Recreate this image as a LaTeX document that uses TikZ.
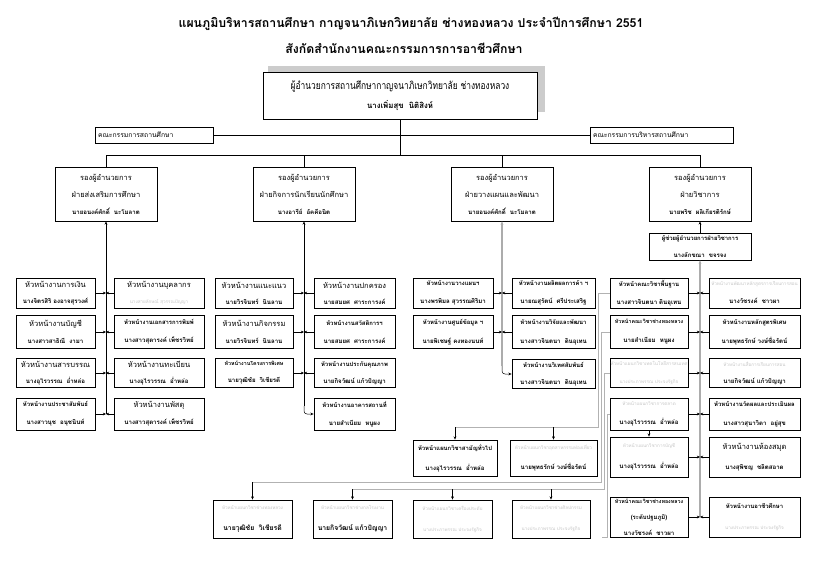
\documentclass[tikz,border=0pt]{standalone}
\usepackage{fontspec}
\setmainfont[Script=Thai]{Loma}
\usetikzlibrary{arrows.meta}
\newcommand\hd[1]{{\fontsize{7.5}{8}\selectfont #1}}
\newcommand\hs[1]{{\fontsize{5.9}{6.5}\selectfont\bfseries #1}}
\newcommand\hn[1]{{\fontsize{5.3}{6.5}\selectfont\bfseries #1}}
\newcommand\nm[1]{{\fontsize{6.1}{6.5}\selectfont\bfseries #1}}
\newcommand\gr[1]{{\color{gray!45}\fontsize{4.6}{5.5}\selectfont #1}}
\newcommand\ob[5]{\node[bx, minimum width=#3pt, minimum height=#4pt] (#1) at #2 {#5};}
\begin{document}
\begin{tikzpicture}[x=1pt,y=-1pt,
  bx/.style={draw=black, line width=0.8pt, fill=white, align=center, inner sep=0pt},
  ln/.style={draw=black, line width=0.5pt},
  gl/.style={draw=gray!65, line width=1.3pt},
  rt/.style={draw=gray!60, line width=1pt},
  arr/.style={-{Stealth[length=3.2pt,width=2.8pt]}}]
\useasboundingbox[fill=white] (0,0) rectangle (827,579);

% title
\node[font=\fontsize{12.3}{14}\selectfont\bfseries] (t1) at (411,24) {แผนภูมิบริหารสถานศึกษา กาญจนาภิเษกวิทยาลัย ช่างทองหลวง ประจำปีการศึกษา 2551};
\node[font=\fontsize{12.3}{14}\selectfont\bfseries] (t2) at (404,48) {สังกัดสำนักงานคณะกรรมการการอาชีวศึกษา};

% director
\fill[gray!40] (268,66) rectangle (545,112);
\node[bx, minimum width=274pt, minimum height=47pt] (dir) at (400,95.5)
 {\scalebox{0.8}[1]{\fontsize{10.5}{12}\selectfont ผู้อำนวยการสถานศึกษากาญจนาภิเษกวิทยาลัย ช่างทองหลวง}\\[7pt]{\fontsize{7.8}{9}\selectfont\bfseries นางเพิ่มสุข\ \ นิติสิงห์}};

% committees
\node[bx, minimum height=16pt, text width=112pt, inner xsep=3pt, align=left, font=\fontsize{6.8}{7}\selectfont] (cL) at (154,135) {คณะกรรมการสถานศึกษา};
\node[bx, minimum height=16pt, text width=137pt, inner xsep=3pt, align=left, font=\fontsize{6.8}{7}\selectfont] (cR) at (661.5,135) {คณะกรรมการบริหารสถานศึกษา};
\draw[ln] (cL.east) -- (cR.west);

% bus
\coordinate (bm) at (400,155);
\coordinate (b1) at (106,155);
\coordinate (b2) at (304,155);
\coordinate (b3) at (502,155);
\coordinate (b4) at (700,155);
\draw[ln] (dir.south) -- (bm);
\draw[ln] (b1) -- (b4);

% deputies
\ob{d1}{(106,194)}{102}{54}{\hd{รองผู้อำนวยการ}\\[5pt]\hd{ฝ่ายส่งเสริมการศึกษา}\\[5pt]\nm{นายอนงค์ศักดิ์\ \ นะโมลาต}}
\ob{d2}{(304,194)}{102}{54}{\hd{รองผู้อำนวยการ}\\[5pt]\hd{ฝ่ายกิจการนักเรียนนักศึกษา}\\[5pt]\nm{นางอารีย์\ \ อัคคีอนิต}}
\ob{d3}{(502,194)}{102}{54}{\hd{รองผู้อำนวยการ}\\[5pt]\hd{ฝ่ายวางแผนและพัฒนา}\\[5pt]\nm{นายอนงค์ศักดิ์\ \ นะโมลาต}}
\ob{d4}{(700,194)}{102}{54}{\hd{รองผู้อำนวยการ}\\[5pt]\hd{ฝ่ายวิชาการ}\\[5pt]\nm{นายพริช\ \ ผลิเกียรติรักษ์}}
\draw[ln] (b1) -- (d1.north);
\draw[ln] (b2) -- (d2.north);
\draw[ln] (b3) -- (d3.north);
\draw[ln] (b4) -- (d4.north);
\ob{as}{(700,246.5)}{102}{27}{\hs{ผู้ช่วยผู้อำนวยการฝ่ายวิชาการ}\\[5pt]\nm{นางลักขณา\ \ ขจรจง}}
\draw[ln,arr] (as.north) -- (d4.south);

% column 1
\ob{c1l1}{(55.5,293)}{79}{30}{\hd{หัวหน้างานการเงิน}\\[4pt]\nm{นางจิตรสิริ\ องอาจสุรวงศ์}}
\ob{c1r1}{(159,293)}{90}{30}{\hd{หัวหน้างานบุคลากร}\\[4pt]\gr{นางสายลักษณ์\ สุวรรณปัญญา}}
\ob{c1l2}{(55.5,332)}{79}{33}{\hd{หัวหน้างานบัญชี}\\[5pt]\nm{นางสาวสาธิณี\ \ งามา}}
\ob{c1r2}{(159,332)}{90}{33}{\hs{หัวหน้างานเอกสารการพิมพ์}\\[6pt]\nm{นางสาวสุดารงค์\ เพ็ชรวิทย์}}
\ob{c1l3}{(55.5,373)}{79}{29}{\hd{หัวหน้างานสารบรรณ}\\[4pt]\nm{นางอุไรวรรณ\ \ อ่ำหล่อ}}
\ob{c1r3}{(159,373)}{90}{29}{\hd{หัวหน้างานทะเบียน}\\[4pt]\nm{นางอุไรวรรณ\ \ อ่ำหล่อ}}
\ob{c1l4}{(55.5,414)}{79}{32}{\hs{หัวหน้างานประชาสัมพันธ์}\\[6pt]\nm{นางสาวนุช\ \ อนุชนินท์}}
\ob{c1r4}{(159,414)}{90}{32}{\hd{หัวหน้างานพัสดุ}\\[5pt]\nm{นางสาวสุดารงค์\ เพ็ชรวิทย์}}
\coordinate (k1) at (106,414);
\draw[ln,arr] (k1) -- (d1.south);
\foreach \r in {1,2,3,4}{
  \draw[ln,arr] (c1l\r.east) -- (c1l\r.east -| k1);
  \draw[ln,arr] (c1r\r.west) -- (c1r\r.west -| k1);
}

% column 2
\ob{c2l1}{(254,293)}{78}{30}{\hd{หัวหน้างานแนะแนว}\\[4pt]\nm{นายวิรจินทร์\ \ นินลาน}}
\ob{c2r1}{(354.5,293)}{81}{30}{\hd{หัวหน้างานปกครอง}\\[4pt]\nm{นายสมยศ\ \ ศาระการงค์}}
\ob{c2l2}{(254,332)}{78}{33}{\hd{หัวหน้างานกิจกรรม}\\[5pt]\nm{นายวิรจินทร์\ \ นินลาน}}
\ob{c2r2}{(354.5,332)}{81}{33}{\hs{หัวหน้างานสวัสดิการฯ}\\[6pt]\nm{นายสมยศ\ \ ศาระการงค์}}
\ob{c2l3}{(254,373)}{78}{29}{\hn{หัวหน้างานโครงการพิเศษ}\\[5pt]\nm{นายวุฒิชัย\ \ วิเชียรดี}}
\ob{c2r3}{(354.5,373)}{81}{29}{\hs{หัวหน้างานประกันคุณภาพ}\\[5pt]\nm{นายกิจวัฒน์\ แก้วปัญญา}}
\ob{c2r4}{(354.5,414)}{81}{32}{\hs{หัวหน้างานอาคารสถานที่}\\[6pt]\nm{นายสำเนียม\ \ หนูผง}}
\coordinate (k2) at (304,406);
\draw[ln,arr] (k2) -- (d2.south);
\draw[ln,arr,rounded corners=3pt] (k2) |- (c2r4.west);
\foreach \r in {1,2,3}{
  \draw[ln,arr] (c2l\r.east) -- (c2l\r.east -| k2);
  \draw[ln,arr] (c2r\r.west) -- (c2r\r.west -| k2);
}

% column 3
\ob{c3l1}{(453,293)}{80}{30}{\hs{หัวหน้างานวางแผนฯ}\\[6pt]\nm{นางพรพิมล\ สุวรรณศิริมา}}
\ob{c3r1}{(553.5,293)}{83}{30}{\hs{หัวหน้างานผลิตผลการค้า ฯ}\\[6pt]\nm{นายณสุรัตน์\ \ ศรีประเสริฐ}}
\ob{c3l2}{(453,332)}{80}{33}{\hs{หัวหน้างานศูนย์ข้อมูล ฯ}\\[7pt]\nm{นายพิเชษฐ์\ คงทองนนท์}}
\ob{c3r2}{(553.5,332)}{83}{33}{\hs{หัวหน้างานวิจัยและพัฒนา}\\[7pt]\nm{นางสาวจินตนา\ \ ดินอุเทน}}
\ob{c3r3}{(553.5,374)}{83}{29}{\hs{หัวหน้างานวิเทศสัมพันธ์}\\[5pt]\nm{นางสาวจินตนา\ \ ดินอุเทน}}
\coordinate (k3) at (502,366);
\draw[gl,arr] (k3) -- (d3.south);
\draw[ln,arr,rounded corners=3pt] (k3) |- (c3r3.west);
\foreach \r in {1,2}{
  \draw[ln,arr] (c3l\r.east) -- (c3l\r.east -| k3);
  \draw[ln,arr] (c3r\r.west) -- (c3r\r.west -| k3);
}

% column 4
\ob{c4l1}{(649,293)}{78}{30}{\hs{หัวหน้าคณะวิชาพื้นฐาน}\\[6pt]\nm{นางสาวจินตนา\ ดินอุเทน}}
\ob{c4r1}{(754.5,293)}{91}{30}{\gr{หัวหน้างานพัฒนาหลักสูตรการเรียนการสอน}\\[6pt]\nm{นางวัชรงค์\ \ ชาวผา}}
\ob{c4l2}{(649,332)}{78}{33}{\hn{หัวหน้าคณะวิชาช่างทองหลวง}\\[7pt]\nm{นายสำเนียม\ \ หนูผง}}
\ob{c4r2}{(754.5,332)}{91}{33}{\hs{หัวหน้างานหลักสูตรพิเศษ}\\[7pt]\nm{นายพุทธรักษ์\ วงษ์ชื่อรัตน์}}
\ob{c4l3}{(649,373)}{78}{29}{\gr{หัวหน้าแผนกวิชาเทคโนโลยีสารสนเทศ}\\[6pt]\gr{นางประภาพรรณ\ ประจงรัฐกิจ}}
\ob{c4r3}{(754.5,373)}{91}{29}{\gr{หัวหน้างานสื่อการเรียนการสอน}\\[5pt]\nm{นายกิจวัฒน์\ แก้วปัญญา}}
\ob{c4l4}{(649,414)}{78}{32}{\gr{หัวหน้าแผนกวิชาการตลาด}\\[7pt]\nm{นางอุไรวรรณ\ \ อ่ำหล่อ}}
\ob{c4r4}{(754.5,414)}{91}{32}{\hs{หัวหน้างานวัดผลและประเมินผล}\\[7pt]\nm{นางสาวสุนาวิดา\ \ อยู่สุข}}
\ob{c4l5}{(649,457)}{78}{40}{\gr{หัวหน้าแผนกวิชาการบัญชี}\\[9pt]\nm{นางอุไรวรรณ\ \ อ่ำหล่อ}}
\ob{c4r5}{(754.5,457)}{91}{40}{\hd{หัวหน้างานห้องสมุด}\\[8pt]\nm{นางสุพิชญ\ \ ชลิตสอาด}}
\ob{c4l6}{(649,517)}{78}{40}{\hn{หัวหน้าคณะวิชาช่างทองหลวง}\\[4pt]\hs{(ระดับปฐมภูมิ)}\\[4pt]\nm{นางวัชรงค์\ \ ชาวผา}}
\ob{c4r6}{(754.5,517)}{91}{40}{\hs{หัวหน้างานอาชีวศึกษา}\\[9pt]\gr{นางประภาพรรณ\ ประจงรัฐกิจ}}
\coordinate (k4) at (700,517);
\draw[gl,arr] (k4) -- (as.south);
\foreach \r in {1,2,3,4,5,6}{
  \draw[ln,arr] (c4l\r.east) -- (c4l\r.east -| k4);
  \draw[ln,arr] (c4r\r.west) -- (c4r\r.west -| k4);
}
\draw[ln,arr] (c4l4.south) -- (c4l5.north);

% middle and bottom rows
\ob{m1}{(455,458)}{84}{36}{\hs{หัวหน้าแผนกวิชาสามัญทั่วไป}\\[8pt]\nm{นางอุไรวรรณ\ \ อ่ำหล่อ}}
\ob{m2}{(553.5,458)}{87}{36}{\gr{หัวหน้าแผนกวิชาอุตสาหกรรมท่องเที่ยว}\\[8pt]\nm{นายพุทธรักษ์\ วงษ์ชื่อรัตน์}}
\ob{bb1}{(252.5,519)}{79}{38}{\gr{หัวหน้าแผนกวิชาช่างทองหลวง}\\[9pt]{\fontsize{6.8}{7}\selectfont\bfseries นายวุฒิชัย\ \ วิเชียรดี}}
\ob{bb2}{(352.5,519)}{79}{38}{\gr{หัวหน้าแผนกวิชาช่างกลโรงงาน}\\[9pt]{\fontsize{6.8}{7}\selectfont\bfseries นายกิจวัฒน์\ แก้วปัญญา}}
\ob{bb3}{(452.5,519)}{79}{38}{\gr{หัวหน้าแผนกวิชาเครื่องประดับ}\\[9pt]\gr{นางประภาพรรณ\ ประจงรัฐกิจ}}
\ob{bb4}{(551,519)}{78}{38}{\gr{หัวหน้าแผนกวิชาช่างศิลปกรรม}\\[9pt]\gr{นางประภาพรรณ\ ประจงรัฐกิจ}}

\coordinate (q1) at (598,427);
\coordinate (q2) at (601,482);
\coordinate (q3) at (604,489);
\coordinate (q4) at (607,537);
\draw[rt] (c4l1.west) -| (q1) -- (q1 -| m1.north);
\draw[ln,arr] (q1 -| m1.north) -- (m1.north);
\draw[ln,arr] (q1 -| m2.north) -- (m2.north);
\draw[rt] (c4l2.west) -| (q2) -- (q2 -| bb1.north);
\draw[ln,arr] (q2 -| bb1.north) -- (bb1.north);
\draw[rt] (c4l3.west) -| (q3) -- (q3 -| bb2.north);
\draw[ln,arr] (q3 -| bb2.north) -- (bb2.north);
\draw[ln,arr] (q3 -| bb3.north) -- (bb3.north);
\draw[ln,arr] (q3 -| bb4.north) -- (bb4.north);
\draw[rt] (c4l4.west) -| (q4) -- ++(-5,0);
\end{tikzpicture}
\end{document}
